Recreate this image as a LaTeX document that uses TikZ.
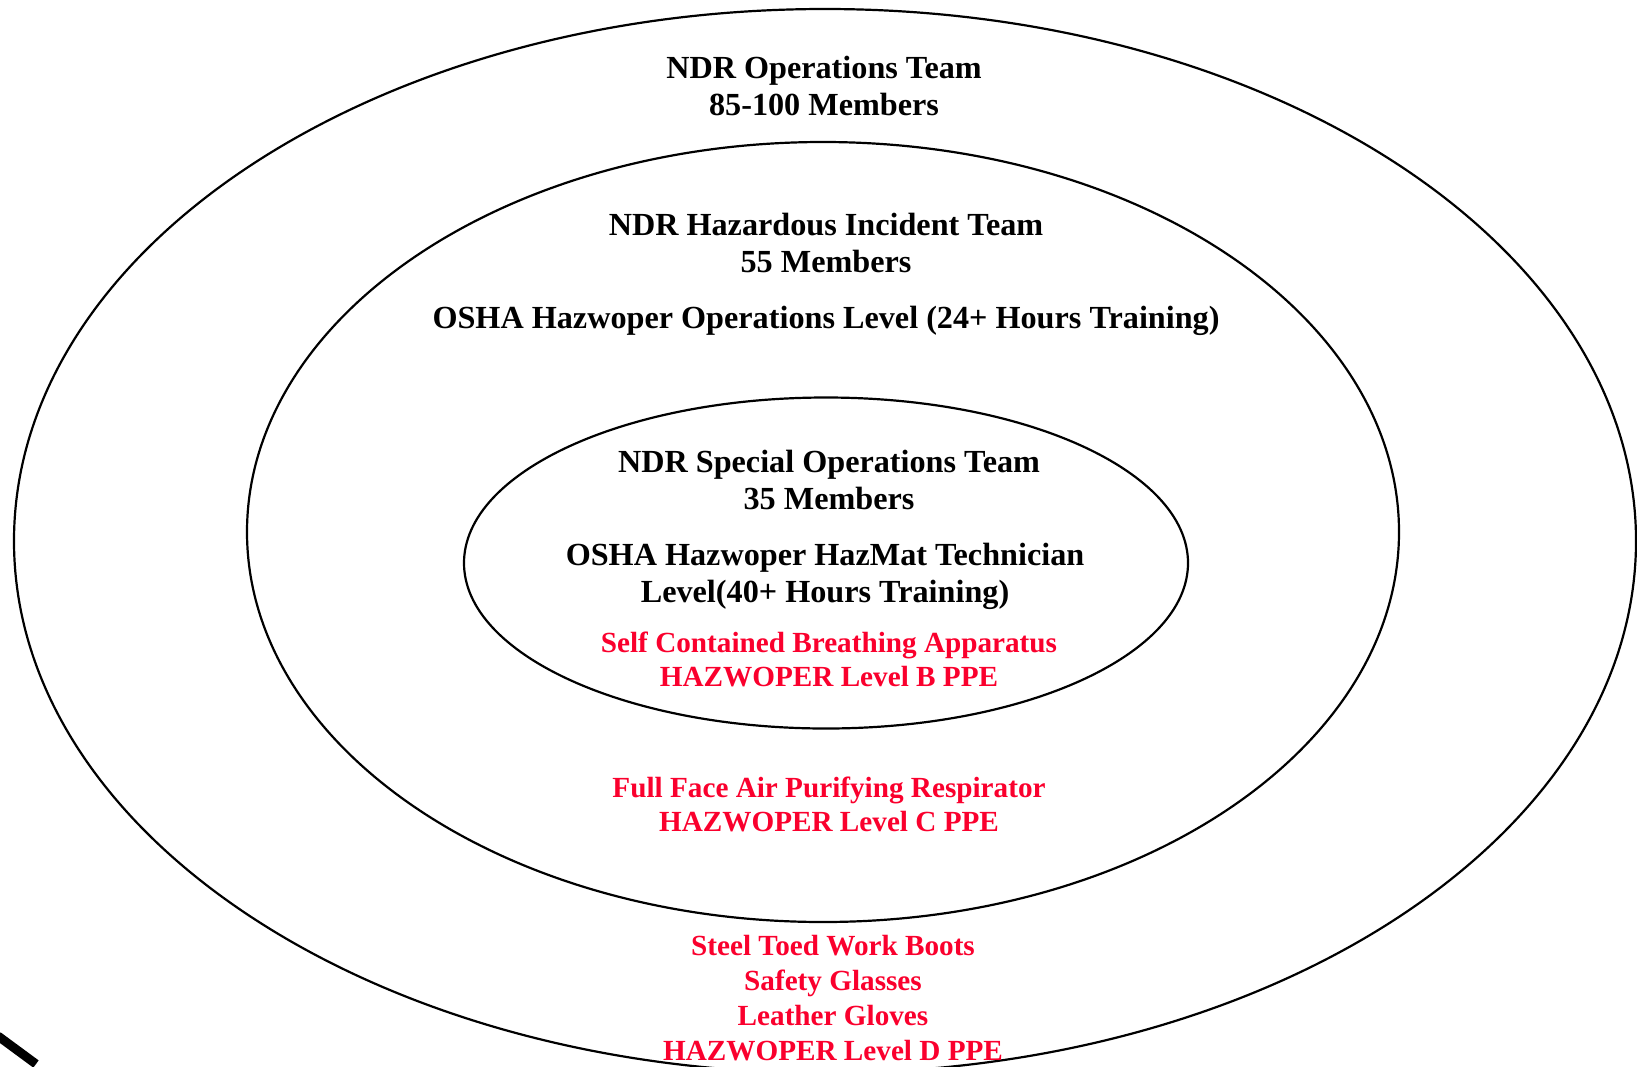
\documentclass[tikz,border=0pt]{standalone}
\usepackage{fontspec}
\setmainfont{Liberation Serif}
\usepackage{tikz}
\definecolor{ppered}{RGB}{250,0,45}

\begin{document}
\begin{tikzpicture}[x=0.5pt, y=-0.5pt,
		team/.style = {align=center, font=\fontsize{16.1}{18.8}\selectfont\bfseries, inner sep=0},
		ppe/.style = {align=center, text=ppered, font=\fontsize{14.6}{17.4}\selectfont\bfseries, inner sep=0}]
		\useasboundingbox (0,0) rectangle (1637,1066);
		\clip (0,0) rectangle (1637,1066);
		% rings
		\draw[line width=1.1pt] (825,541) ellipse [x radius=811, y radius=532];
		\draw[line width=1.1pt] (823,532) ellipse [x radius=576, y radius=390];
		\draw[line width=1.1pt] (826,563) ellipse [x radius=362, y radius=165.5];
		% outer ring
		\node[team] (ops) at (824,86) {NDR Operations Team\\85-100 Members};
		\node[ppe] (ppeD) at (833,998) {Steel Toed Work Boots\\Safety Glasses\\Leather Gloves\\HAZWOPER Level D PPE};
		% middle ring
		\node[team] (haz) at (826,243) {NDR Hazardous Incident Team\\55 Members};
		\node[team] (hazlvl) at (826,320.5) {OSHA Hazwoper Operations Level (24+ Hours Training)};
		\node[ppe] (ppeC) at (829,804.5) {Full Face Air Purifying Respirator\\HAZWOPER Level C PPE};
		% inner ring
		\node[team] (spec) at (829,480) {NDR Special Operations Team\\35 Members};
		\node[team] (techlvl) at (825,576.5) {OSHA Hazwoper HazMat Technician\\Level(40+ Hours Training)};
		\node[ppe] (ppeB) at (829,659.5) {Self Contained Breathing Apparatus\\HAZWOPER Level B PPE};
		% corner mark
		\draw[line width=4.5pt] (-2,1036) -- (36,1064);
\end{tikzpicture}
\end{document}
